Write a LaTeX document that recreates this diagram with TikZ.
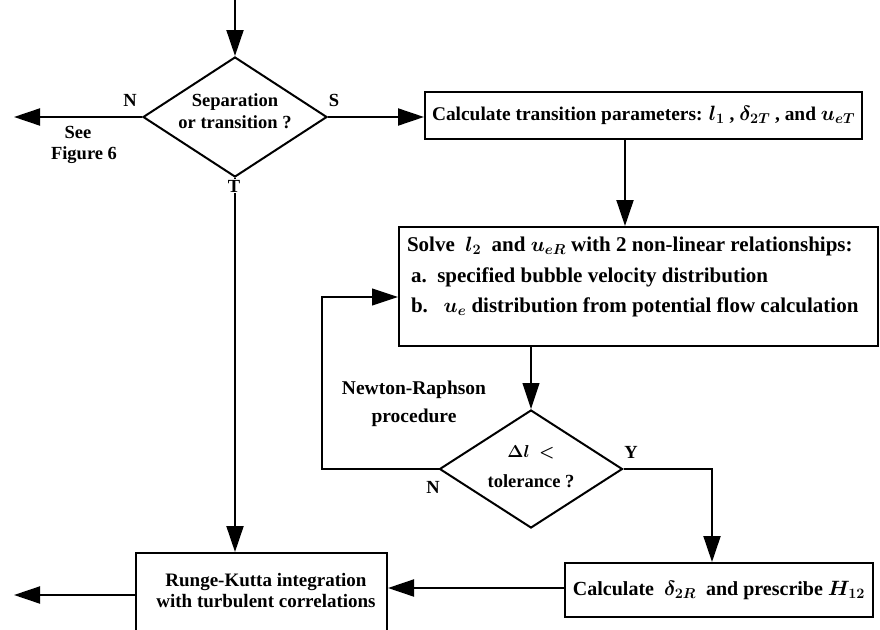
\documentclass[tikz,border=0pt]{standalone}
\usepackage{fontspec}
\setmainfont{Liberation Serif}
\usetikzlibrary{shapes.geometric,arrows.meta,calc}
\newcommand{\fs}[2]{\fontsize{#1}{#2}\selectfont\bfseries\boldmath}
\begin{document}
\begin{tikzpicture}[x=1pt,y=-1pt,
  font=\fs{18.5}{22},
  line width=2pt,
  arr/.style={-{Triangle[length=26pt,width=17pt]}},
  thinarr/.style={-{Triangle[length=26pt,width=17pt]}, line width=1.1pt},
  boxn/.style={draw, rectangle, inner sep=0pt},
  dia/.style={draw, diamond, inner sep=0pt},
  lbl/.style={inner sep=0pt, align=center},
]
\clip (0,0) rectangle (880,629);
\fill[white] (0,0) rectangle (880,629);

% shapes
\node[dia, minimum width=184pt, minimum height=120pt] (d1) at (235,117) {};
\node[lbl] (d1t) at (235,111) {Separation\\or transition ?};

\node[boxn, minimum width=437pt, minimum height=47pt, font=\fs{19.4}{24}] (b1) at (643.5,115.5)
  {Calculate transition parameters: $l_1$ , $\delta_{2T}$ , and $u_{eT}$};

\node[boxn, minimum width=479pt, minimum height=119pt] (b2) at (638.5,286.5) {};
\node[lbl, align=left, anchor=west, font=\fs{21}{30.5}] (b2t) at (406,277)
  {Solve\ \ $l_2$\ \ and $u_{eR}$ with 2 non-linear relationships:\\
   \hspace{4pt}a.\ \ specified bubble velocity distribution\\
   \hspace{4pt}b.\ \ \ $u_e$\ distribution from potential flow calculation};

\node[dia, minimum width=183pt, minimum height=118pt] (d2) at (531,469) {};
\node[lbl] (d2t) at (531,467) {$\Delta l$\ \ $<$\\[8pt]tolerance ?};

\node[boxn, minimum width=251pt, minimum height=107pt] (b3) at (261.5,606.5) {};
\node[lbl, font=\fs{19}{21}] (b3t) at (266,591)
  {Runge-Kutta integration\\with turbulent correlations};

\node[boxn, minimum width=308pt, minimum height=54pt, font=\fs{20}{24}] (b4) at (719,590)
  {Calculate\ \ $\delta_{2R}$\ \ and prescribe $H_{12}$};

% coordinates
\coordinate (top) at (235,0);
\coordinate (outN) at (14,117);
\coordinate (x1) at (625,0);
\coordinate (fb) at (322,297);
\coordinate (yx) at (712,0);
\coordinate (outB) at (14,595);
\coordinate (yb) at (0,588);

% connectors
\draw[arr] (top) -- (d1.north);
\draw[arr] (d1.west) -- (outN);
\draw[arr] (d1.east) -- (b1.west |- d1.east);
\draw[arr] (b1.south -| x1) -- (b2.north -| x1);
\draw[thinarr] (b2.south -| d2.north) -- (d2.north);
\draw[thinarr] (d2.west) -| (fb) -- (b2.west |- fb);
\draw[arr] (d2.east) -| (b4.north -| yx);
\draw[arr] (b4.west |- yb) -- (b3.east |- yb);
\draw[arr] (d1.south) -- (d1.south |- b3.north);
\draw[arr] (b3.west |- outB) -- (outB);

% labels
\node[lbl] (lN1) at (130,100) {N};
\node[lbl] (lS) at (334,100) {S};
\node[lbl, fill=white, inner sep=1pt] (lT) at (234,186) {T};
\node[lbl] (lsee) at (78,132) {See};
\node[lbl] (lfig) at (84,155) {Figure 6};
\node[lbl, font=\fs{19.5}{28}] (lnr) at (414,404) {Newton-Raphson\\procedure};
\node[lbl] (lN2) at (433,487) {N};
\node[lbl] (lY) at (631,452) {Y};
\end{tikzpicture}
\end{document}
